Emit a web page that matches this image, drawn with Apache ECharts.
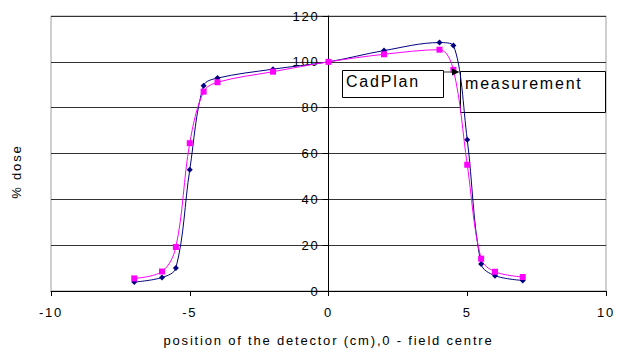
<!DOCTYPE html>
<html>
<head>
<meta charset="utf-8">
<script src="https://cdn.jsdelivr.net/npm/echarts@6/dist/echarts.min.js"></script>
<style>
  html, body { margin: 0; padding: 0; background: #fff; }
  #chart { width: 617px; height: 354px; letter-spacing: 1.8px; }
</style>
</head>
<body>
<div id="chart"></div>
<script>
// Detector positions (cm) across the field
const positions = [-7, -6, -5.5, -5, -4.5, -4, -2, 0, 2, 4, 4.5, 5, 5.5, 6, 7];
// Relative dose (%) – measured profile
const measurement = [3.9, 5.9, 10.0, 52.9, 89.6, 92.9, 96.8, 100, 104.9, 108.4, 107.1, 66.0, 11.8, 6.7, 4.6];
// Relative dose (%) – CadPlan calculation
const cadPlan = [5.5, 8.5, 19.2, 64.5, 87.0, 91.1, 95.7, 100, 103.3, 105.3, 96.5, 55.1, 14.1, 8.4, 6.1];

const xTicks = { min: -10, max: 10, step: 5 };
const yTicks = { min: 0, max: 120, step: 20 };

const pair = (xs, ys) => xs.map((x, i) => [x, ys[i]]);

const GRID = { left: 51, right: 11, top: 16, bottom: 63 };
const plotWidth = 617 - GRID.left - GRID.right;
// the dose axis crosses the position axis at x = 0
const yAxisShift = -plotWidth * (0 - xTicks.min) / (xTicks.max - xTicks.min);

const chart = echarts.init(document.getElementById('chart'), null, { renderer: 'svg' });
const FONT = '"Liberation Sans", Arial, sans-serif';

chart.setOption({
  animation: false,
  backgroundColor: '#fff',
  textStyle: { fontFamily: FONT },
  grid: Object.assign({ show: true, borderColor: '#a0a0a0', borderWidth: 1 }, GRID),
  xAxis: {
    type: 'value',
    min: xTicks.min, max: xTicks.max, interval: xTicks.step,
    name: 'position of the detector (cm),0 - field centre',
    nameLocation: 'middle', nameGap: 43,
    nameTextStyle: { color: '#000', fontSize: 13, fontFamily: FONT },
    axisLine: { onZero: true, lineStyle: { color: '#000', width: 1 } },
    axisTick: { show: true, length: 5, lineStyle: { color: '#000' } },
    axisLabel: { color: '#000', fontSize: 13, margin: 15, fontFamily: FONT },
    splitLine: { show: false }
  },
  yAxis: {
    type: 'value',
    min: yTicks.min, max: yTicks.max, interval: yTicks.step,
    offset: yAxisShift,
    axisLine: { onZero: false, lineStyle: { color: '#000', width: 1 } },
    axisTick: { show: true, length: 6, lineStyle: { color: '#000' } },
    axisLabel: { color: '#000', fontSize: 13, margin: 9, fontFamily: FONT },
    splitLine: { show: true, lineStyle: { color: '#333', width: 1 } }
  },
  series: [
    {
      name: 'measurement',
      type: 'line',
      data: pair(positions, measurement),
      smooth: 0.35,
      symbol: 'diamond',
      symbolSize: 6,
      lineStyle: { color: '#000080', width: 1 },
      itemStyle: { color: '#000080' },
      z: 3
    },
    {
      name: 'CadPlan',
      type: 'line',
      data: pair(positions, cadPlan),
      smooth: 0.35,
      symbol: 'rect',
      symbolSize: 6,
      lineStyle: { color: '#ff00ff', width: 1 },
      itemStyle: { color: '#ff00ff' },
      z: 3
    }
  ],
  graphic: [
    {
      type: 'text', left: 10, top: 'middle', rotation: Math.PI / 2, z: 5,
      style: { text: '% dose', fill: '#000', font: '13px ' + FONT }
    },
    {
      type: 'rect', shape: { x: 342.5, y: 70.5, width: 101, height: 27 }, z: 1,
      style: { fill: '#fff', stroke: '#000', lineWidth: 1 }
    },
    {
      type: 'text', x: 346, y: 73, z: 1,
      style: { text: 'CadPlan', fill: '#000', font: '16px ' + FONT, textVerticalAlign: 'top' }
    },
    {
      type: 'rect', shape: { x: 460.5, y: 71.5, width: 145, height: 41 }, z: 1,
      style: { fill: '#fff', stroke: '#000', lineWidth: 1 }
    },
    {
      type: 'text', x: 465, y: 75, z: 1,
      style: { text: 'measurement', fill: '#000', font: '16px ' + FONT, textVerticalAlign: 'top' }
    },
    {
      type: 'line', shape: { x1: 443.5, y1: 72, x2: 454, y2: 72 }, z: 6,
      style: { stroke: '#555', lineWidth: 1.2 }
    },
    {
      type: 'polygon', shape: { points: [[452, 68.5], [459.5, 72], [452, 75.5]] }, z: 6,
      style: { fill: '#000' }
    }
  ]
});
</script>
</body>
</html>
